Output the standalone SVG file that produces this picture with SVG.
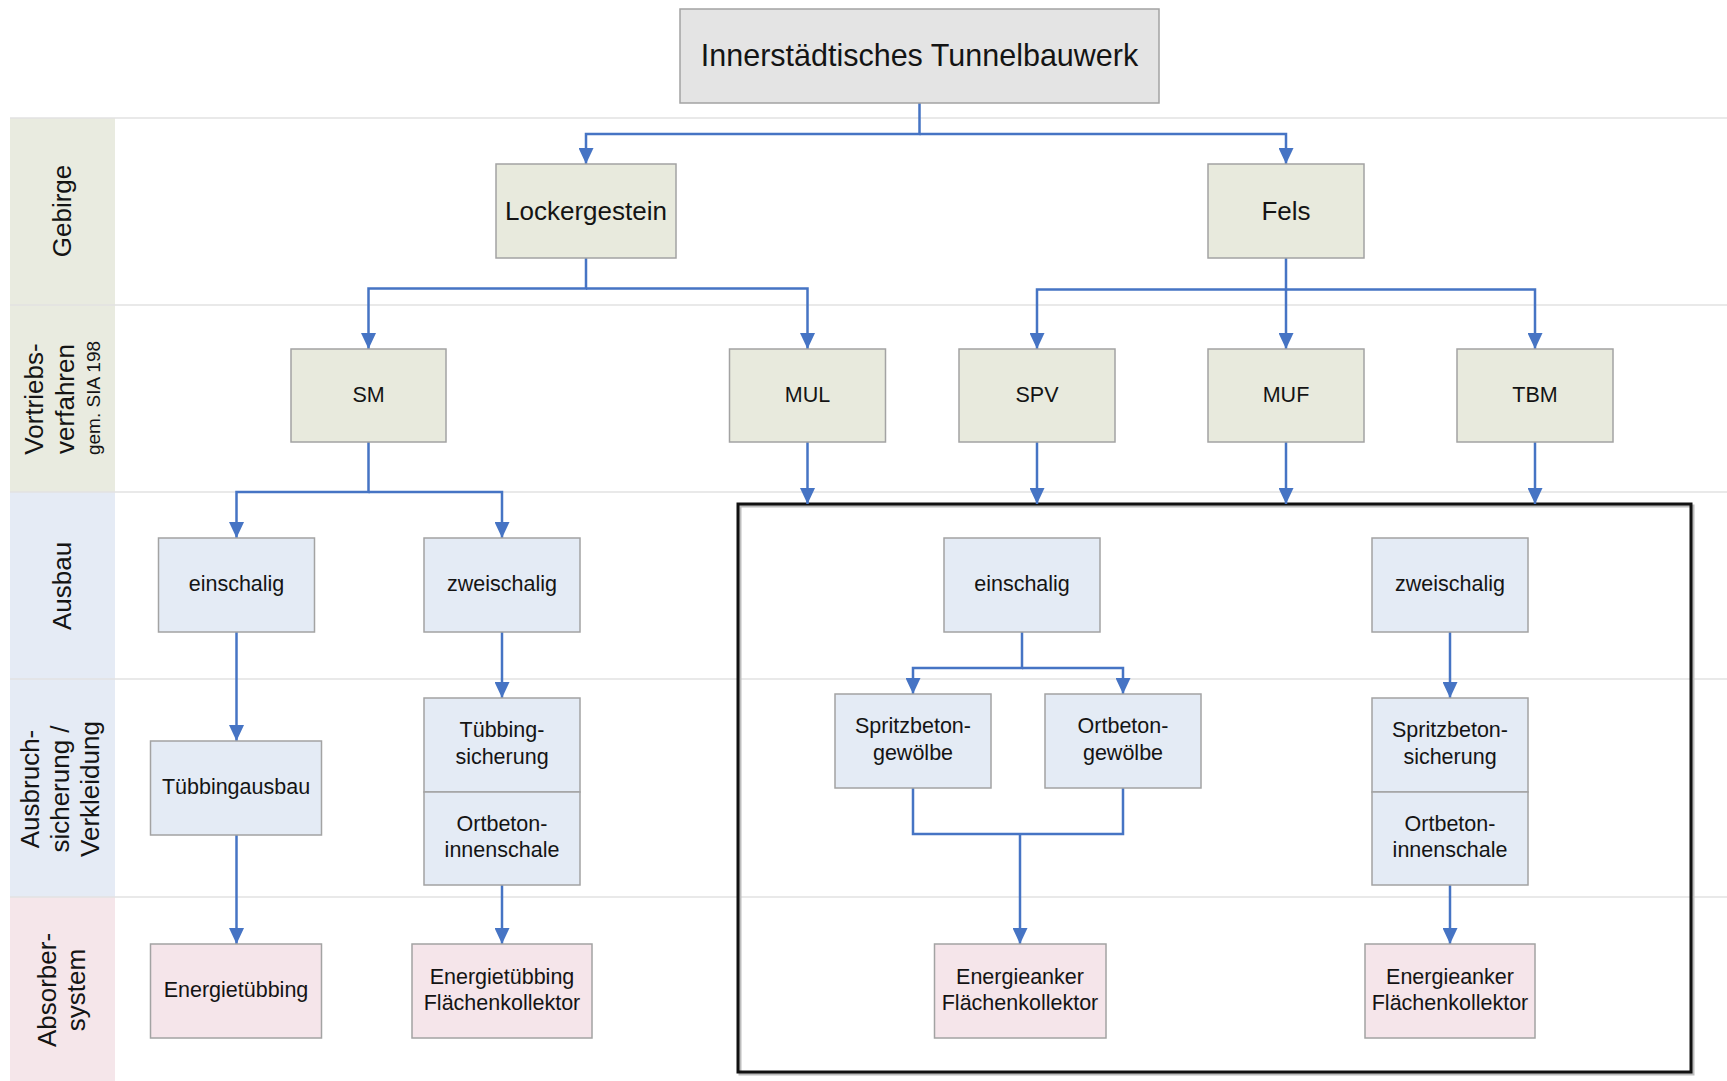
<svg xmlns="http://www.w3.org/2000/svg" width="1727" height="1081" viewBox="0 0 1727 1081">
<style>
  text { font-family: "Liberation Sans", Arial, sans-serif; fill: #141414; text-anchor: middle; }
  .t1 { font-size: 30.5px; }
  .t2 { font-size: 26px; }
  .t3 { font-size: 21.5px; }
  .lane { font-size: 26px; }
  .lanesm { font-size: 19px; }
  .box { stroke: #a3a3a3; stroke-width: 1.5; }
  .gray { fill: #e4e4e4; }
  .green { fill: #e8eadd; }
  .blue { fill: #e4ebf5; }
  .pink { fill: #f5e5ea; }
  .sep { stroke: #e2e2e2; stroke-width: 1.5; }
  .con { fill: none; stroke: #4674c4; stroke-width: 2.5; }
  .arr { marker-end: url(#ah); }
</style>
<defs>
  <marker id="ah" viewBox="0 -7.5 16 15" refX="16" refY="0" markerWidth="16" markerHeight="15" markerUnits="userSpaceOnUse" orient="auto">
    <path d="M0,-7.5 L16,0 L0,7.5 z" fill="#4674c4"/>
  </marker>
</defs>
<rect x="0" y="0" width="1727" height="1081" fill="#ffffff"/>

<g id="lanes">
  <rect x="10" y="118" width="105" height="374" fill="#e9ebe0"/>
  <rect x="10" y="492" width="105" height="405" fill="#e5ebf5"/>
  <rect x="10" y="897" width="105" height="184" fill="#f5e6ea"/>
  <line class="sep" x1="10" y1="118" x2="1727" y2="118"/>
  <line class="sep" x1="10" y1="305" x2="1727" y2="305"/>
  <line class="sep" x1="10" y1="492" x2="1727" y2="492"/>
  <line class="sep" x1="10" y1="679" x2="1727" y2="679"/>
  <line class="sep" x1="10" y1="897" x2="1727" y2="897"/>
  <text class="lane" transform="translate(71,211) rotate(-90)">Gebirge</text>
  <text class="lane" transform="translate(43,399) rotate(-90)">Vortriebs-</text>
  <text class="lane" transform="translate(74,399) rotate(-90)">verfahren</text>
  <text class="lanesm" transform="translate(100,398) rotate(-90)">gem. SIA 198</text>
  <text class="lane" transform="translate(71,586) rotate(-90)">Ausbau</text>
  <text class="lane" transform="translate(39,789) rotate(-90)">Ausbruch-</text>
  <text class="lane" transform="translate(69,789) rotate(-90)">sicherung /</text>
  <text class="lane" transform="translate(99,789) rotate(-90)">Verkleidung</text>
  <text class="lane" transform="translate(56,990) rotate(-90)">Absorber-</text>
  <text class="lane" transform="translate(85,990) rotate(-90)">system</text>
</g>

<g id="frame">
  <rect x="740" y="506" width="953" height="568" fill="none" stroke="#bdbdbd" stroke-width="3"/>
  <rect x="738" y="504" width="953" height="568" fill="none" stroke="#111111" stroke-width="3"/>
</g>

<g id="connectors">
  <path class="con arr" d="M919.5 103 V134 H586 V164"/>
  <path class="con arr" d="M919.5 134 H1286 V164"/>
  <path class="con arr" d="M586 258 V288.5 H368.5 V349"/>
  <path class="con arr" d="M586 288.5 H807.5 V349"/>
  <path class="con arr" d="M1286 258 V289.5 H1037 V349"/>
  <path class="con arr" d="M1286 289.5 V349"/>
  <path class="con arr" d="M1286 289.5 H1535 V349"/>
  <path class="con arr" d="M368.5 442 V492 H236.5 V538"/>
  <path class="con arr" d="M368.5 492 H502 V538"/>
  <path class="con arr" d="M807.5 442 V504"/>
  <path class="con arr" d="M1037 442 V504"/>
  <path class="con arr" d="M1286 442 V504"/>
  <path class="con arr" d="M1535 442 V504"/>
  <path class="con arr" d="M236.5 632 V741"/>
  <path class="con arr" d="M236.5 835 V944"/>
  <path class="con arr" d="M502 632 V698"/>
  <path class="con arr" d="M502 885 V944"/>
  <path class="con arr" d="M1022 632 V668 H913 V694"/>
  <path class="con arr" d="M1022 668 H1123 V694"/>
  <path class="con" d="M913 788 V834 H1123 V788"/>
  <path class="con arr" d="M1020 834 V944"/>
  <path class="con arr" d="M1450 632 V698"/>
  <path class="con arr" d="M1450 885 V944"/>
</g>

<g id="n-tunnel"><rect class="box gray" x="680" y="9" width="479" height="94"/><text class="t1" x="919.5" y="66">Innerstädtisches Tunnelbauwerk</text></g>

<g id="n-locker"><rect class="box green" x="496" y="164" width="180" height="94"/><text class="t2" x="586" y="219.5">Lockergestein</text></g>
<g id="n-fels"><rect class="box green" x="1208" y="164" width="156" height="94"/><text class="t2" x="1286" y="219.5">Fels</text></g>

<g id="n-sm"><rect class="box green" x="291" y="349" width="155" height="93"/><text class="t3" x="368.5" y="401.5">SM</text></g>
<g id="n-mul"><rect class="box green" x="729.5" y="349" width="156" height="93"/><text class="t3" x="807.5" y="401.5">MUL</text></g>
<g id="n-spv"><rect class="box green" x="959" y="349" width="156" height="93"/><text class="t3" x="1037" y="401.5">SPV</text></g>
<g id="n-muf"><rect class="box green" x="1208" y="349" width="156" height="93"/><text class="t3" x="1286" y="401.5">MUF</text></g>
<g id="n-tbm"><rect class="box green" x="1457" y="349" width="156" height="93"/><text class="t3" x="1535" y="401.5">TBM</text></g>

<g id="n-ein-l"><rect class="box blue" x="158.5" y="538" width="156" height="94"/><text class="t3" x="236.5" y="591">einschalig</text></g>
<g id="n-zwei-l"><rect class="box blue" x="424" y="538" width="156" height="94"/><text class="t3" x="502" y="591">zweischalig</text></g>
<g id="n-ein-r"><rect class="box blue" x="944" y="538" width="156" height="94"/><text class="t3" x="1022" y="591">einschalig</text></g>
<g id="n-zwei-r"><rect class="box blue" x="1372" y="538" width="156" height="94"/><text class="t3" x="1450" y="591">zweischalig</text></g>

<g id="n-tuebbingausbau"><rect class="box blue" x="150.5" y="741" width="171" height="94"/><text class="t3" x="236" y="793.5">Tübbingausbau</text></g>

<g id="n-tuebbingsicherung"><rect class="box blue" x="424" y="698" width="156" height="94"/><text class="t3" x="502" y="737">Tübbing-</text><text class="t3" x="502" y="763.5">sicherung</text></g>
<g id="n-ortbeton-l"><rect class="box blue" x="424" y="792" width="156" height="93"/><text class="t3" x="502" y="830.5">Ortbeton-</text><text class="t3" x="502" y="857">innenschale</text></g>

<g id="n-spritz-gew"><rect class="box blue" x="835" y="694" width="156" height="94"/><text class="t3" x="913" y="733">Spritzbeton-</text><text class="t3" x="913" y="759.5">gewölbe</text></g>
<g id="n-ort-gew"><rect class="box blue" x="1045" y="694" width="156" height="94"/><text class="t3" x="1123" y="733">Ortbeton-</text><text class="t3" x="1123" y="759.5">gewölbe</text></g>

<g id="n-spritz-sich"><rect class="box blue" x="1372" y="698" width="156" height="94"/><text class="t3" x="1450" y="737">Spritzbeton-</text><text class="t3" x="1450" y="763.5">sicherung</text></g>
<g id="n-ortbeton-r"><rect class="box blue" x="1372" y="792" width="156" height="93"/><text class="t3" x="1450" y="830.5">Ortbeton-</text><text class="t3" x="1450" y="857">innenschale</text></g>

<g id="n-energietuebbing"><rect class="box pink" x="150.5" y="944" width="171" height="94"/><text class="t3" x="236" y="996.5">Energietübbing</text></g>
<g id="n-energietuebbing-fk"><rect class="box pink" x="412" y="944" width="180" height="94"/><text class="t3" x="502" y="983.5">Energietübbing</text><text class="t3" x="502" y="1010">Flächenkollektor</text></g>
<g id="n-energieanker-l"><rect class="box pink" x="934.5" y="944" width="171.5" height="94"/><text class="t3" x="1020" y="983.5">Energieanker</text><text class="t3" x="1020" y="1010">Flächenkollektor</text></g>
<g id="n-energieanker-r"><rect class="box pink" x="1365" y="944" width="170" height="94"/><text class="t3" x="1450" y="983.5">Energieanker</text><text class="t3" x="1450" y="1010">Flächenkollektor</text></g>
</svg>
